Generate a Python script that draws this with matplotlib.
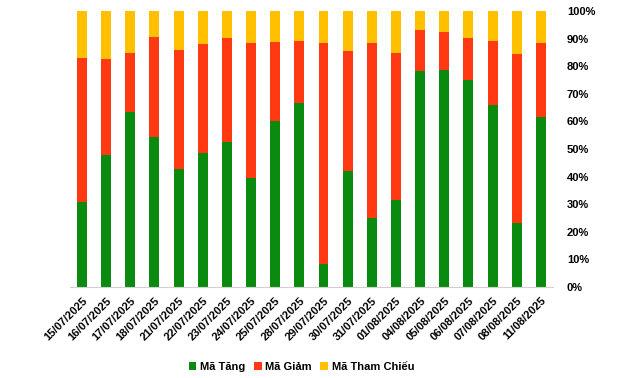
import numpy as np
import matplotlib.pyplot as plt
from matplotlib.ticker import FuncFormatter

plt.rcParams['font.family'] = ['Liberation Sans', 'DejaVu Sans']

dates = ["15/07/2025", "16/07/2025", "17/07/2025", "18/07/2025", "21/07/2025",
         "22/07/2025", "23/07/2025", "24/07/2025", "25/07/2025", "28/07/2025",
         "29/07/2025", "30/07/2025", "31/07/2025", "01/08/2025", "04/08/2025",
         "05/08/2025", "06/08/2025", "07/08/2025", "08/08/2025", "11/08/2025"]
tang = [30.8, 47.8, 63.4, 54.3, 42.7, 48.5, 52.5, 39.5, 60.1, 66.6,
        8.3, 42.0, 25.0, 31.6, 78.2, 78.7, 75.1, 65.9, 23.1, 61.5]
giam_top = [82.9, 82.6, 84.8, 90.6, 85.9, 88.0, 90.2, 88.4, 88.8, 89.1,
            88.4, 85.5, 88.4, 84.8, 93.1, 92.4, 90.2, 89.1, 84.4, 88.4]

tang = np.array(tang)
giam = np.array(giam_top) - tang
tham_chieu = 100 - np.array(giam_top)

fig = plt.figure(figsize=(6.41, 3.78), dpi=100)
ax = fig.add_axes([0.109, 0.2407, 0.7537, 0.7302])

x = np.arange(len(dates))
w = 0.41
ax.bar(x, tang, w, color="#0B8A10", label="Mã Tăng")
ax.bar(x, giam, w, bottom=tang, color="#FF3A12", label="Mã Giảm")
ax.bar(x, tham_chieu, w, bottom=tang + giam, color="#FFC000", label="Mã Tham Chiếu")

ax.set_xlim(-0.5, len(dates) - 0.5)
ax.set_ylim(0, 100)
ax.set_yticks(np.arange(0, 101, 10))
ax.yaxis.set_major_formatter(FuncFormatter(lambda v, p: f"{v:.0f}%"))
ax.yaxis.tick_right()
ax.set_xticks(x)
ax.set_xticklabels(dates, rotation=45, ha="right", rotation_mode="anchor")
ax.tick_params(length=0, labelsize=8)
ax.tick_params(axis="y", pad=10)
ax.tick_params(axis="x", pad=6)
for lab in ax.get_xticklabels() + ax.get_yticklabels():
    lab.set_fontweight("bold")

for s in ["top", "left", "right"]:
    ax.spines[s].set_visible(False)
ax.spines["bottom"].set_color("#d0d0d0")

fig.legend(loc="center", bbox_to_anchor=(0.47, 0.03), ncol=3, frameon=False,
           handlelength=0.7, handleheight=0.7, handletextpad=0.3, columnspacing=0.8,
           prop={"size": 8, "weight": "bold"})

fig.savefig("out.png", dpi=100)
